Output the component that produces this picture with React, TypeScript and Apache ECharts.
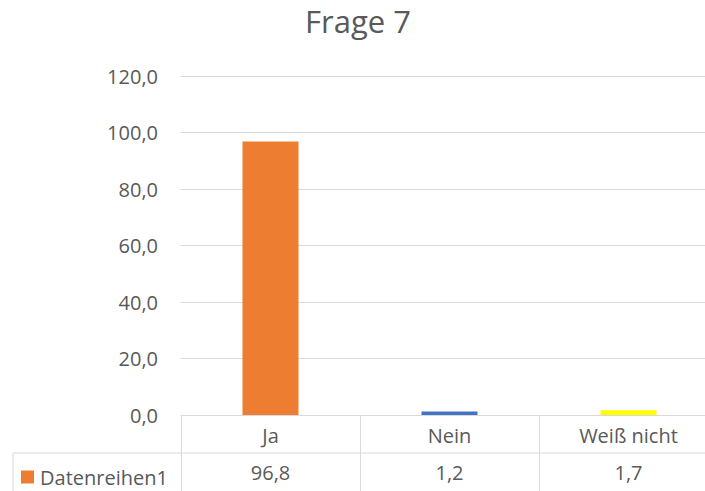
import React, { useEffect, useRef } from "react";
import * as echarts from "echarts";

const title = "Frage 7";
const categories = ["Ja", "Nein", "Weiß nicht"];
const values = [96.8, 1.2, 1.7];
const barColors = ["#ED7D31", "#4472C4", "#FFFF00"];
const seriesName = "Datenreihen1";
const yMin = 0;
const yMax = 120;
const yInterval = 20;

const fmt = (v: number) => v.toFixed(1).replace(".", ",");
const FONT = "'Open Sans', 'Noto Sans', sans-serif";
const TXT = "#595959";
const LINE = "#d9d9d9";

export default function App() {
  const ref = useRef<HTMLDivElement>(null);
  useEffect(() => {
    document.body.style.margin = "0";
    const chart = echarts.init(ref.current!, null, { renderer: "svg" });
    chart.setOption({
      animation: false,
      textStyle: { fontFamily: FONT },
      title: {
        text: title,
        left: 353,
        textAlign: "center",
        top: 0,
        textStyle: { fontFamily: FONT, fontSize: 31, fontWeight: "normal", color: TXT },
      },
      legend: {
        data: [{ name: seriesName, itemStyle: { color: barColors[0] } }],
        left: 16,
        top: 462,
        icon: "rect",
        itemWidth: 13,
        itemHeight: 13,
        itemGap: 5,
        textStyle: { fontFamily: FONT, fontSize: 20, color: TXT, padding: [0, 0, 0, 1] },
        selectedMode: false,
      },
      grid: { left: 181, width: 537, top: 76, bottom: 76, outerBoundsMode: "none", containLabel: false },
      xAxis: [
        {
          type: "category",
          data: categories,
          position: "bottom",
          axisLine: { show: true, lineStyle: { color: LINE, width: 1 } },
          axisTick: { show: true, length: 80, lineStyle: { color: LINE } },
          axisLabel: { fontFamily: FONT, fontSize: 20, color: TXT, margin: 10 },
        },
        {
          type: "category",
          data: values.map(fmt),
          position: "bottom",
          offset: 37,
          axisLine: { show: false },
          axisTick: { show: false },
          axisLabel: { fontFamily: FONT, fontSize: 20, color: TXT, margin: 10 },
        },
      ],
      yAxis: {
        type: "value",
        min: yMin,
        max: yMax,
        interval: yInterval,
        axisLine: { show: false },
        axisTick: { show: false },
        axisLabel: { formatter: (v: number) => fmt(v), fontFamily: FONT, fontSize: 20, color: TXT, margin: 23 },
        splitLine: { lineStyle: { color: LINE, width: 1 } },
      },
      series: [
        {
          name: seriesName,
          type: "bar",
          barWidth: 56,
          data: values.map((v, i) => ({ value: v, itemStyle: { color: barColors[i] } })),
        },
      ],
      graphic: [
        { type: "line", shape: { x1: 13, y1: 453, x2: 720, y2: 453 }, style: { stroke: LINE, lineWidth: 1 }, silent: true },
        { type: "line", shape: { x1: 13, y1: 453, x2: 13, y2: 495 }, style: { stroke: LINE, lineWidth: 1 }, silent: true },
      ],
    });
    return () => chart.dispose();
  }, []);
  return <div ref={ref} style={{ position: "absolute", left: 0, top: 0, width: 705, height: 491 }} />;
}
